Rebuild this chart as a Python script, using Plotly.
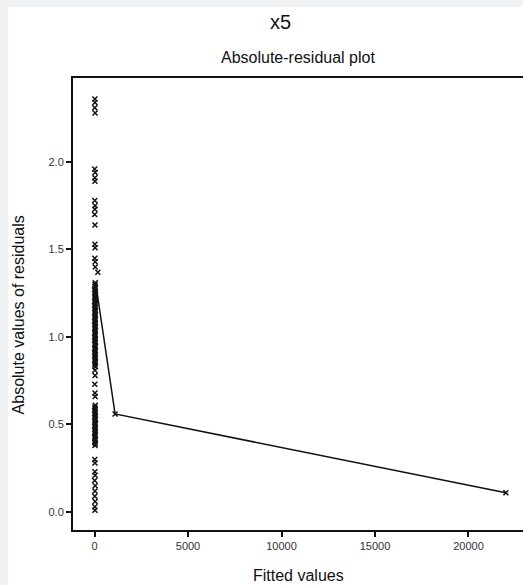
import plotly.graph_objects as go

# Absolute residuals of the observations (column near fitted value 0, plus two large fits)
abs_resid = [
    2.36, 2.34, 2.31, 2.28,
    1.96, 1.94, 1.91, 1.89,
    1.78, 1.75, 1.73, 1.70,
    1.64,
    1.53, 1.51,
    1.45, 1.43, 1.40, 1.37,
    1.31, 1.30, 1.29, 1.28, 1.27, 1.26, 1.25, 1.24, 1.23, 1.22,
    1.21, 1.20, 1.19, 1.18, 1.17, 1.16, 1.15, 1.14, 1.13, 1.12,
    1.11, 1.10, 1.09, 1.08, 1.07, 1.06, 1.05, 1.04, 1.03, 1.02,
    1.01, 1.00, 0.99, 0.98, 0.97, 0.96, 0.95, 0.94, 0.93, 0.92,
    0.91, 0.90, 0.89, 0.88, 0.87, 0.86, 0.85, 0.84, 0.83,
    0.81, 0.78, 0.73, 0.68, 0.66,
    0.61, 0.60, 0.59, 0.58, 0.57, 0.56, 0.55, 0.54, 0.53, 0.52,
    0.51, 0.50, 0.49, 0.48, 0.47, 0.46, 0.45, 0.44, 0.43, 0.42,
    0.41, 0.40, 0.39, 0.38,
    0.30, 0.28, 0.23, 0.21, 0.18, 0.15, 0.12, 0.09, 0.06, 0.03, 0.01,
    0.56, 0.11,
]
fitted = [
    20, 25, 15, 30,
    10, 35, 20, 25,
    15, 30, 20, 10,
    25,
    20, 30,
    15, 35, 40, 180,
    40, 30, 20, 45, 10, 35, 25, 50, 15, 40,
    30, 20, 45, 10, 35, 25, 50, 15, 40, 30,
    20, 45, 10, 35, 25, 50, 15, 40, 30, 20,
    45, 10, 35, 25, 50, 15, 40, 30, 20, 45,
    10, 35, 25, 50, 15, 40, 30, 20, 45,
    20, 30, 15, 25, 35,
    40, 20, 30, 10, 45, 25, 35, 15, 50, 20,
    30, 40, 10, 45, 25, 35, 15, 50, 20, 30,
    40, 10, 45, 25,
    15, 25, 20, 30, 10, 35, 25, 15, 30, 20, 25,
    1100, 22000,
]

# Trend line of absolute residuals vs fitted values
trend_fitted = [60, 1100, 22000]
trend_abs_resid = [1.31, 0.56, 0.11]

x_ticks = [0, 5000, 10000, 15000, 20000]
y_ticks = [0.0, 0.5, 1.0, 1.5, 2.0]

FONT = "Liberation Sans, Arial, sans-serif"

fig = go.Figure()
fig.add_trace(go.Scatter(
    x=trend_fitted, y=trend_abs_resid, mode="lines",
    line=dict(color="#111111", width=1.5), hoverinfo="skip", showlegend=False,
))
fig.add_trace(go.Scatter(
    x=fitted, y=abs_resid, mode="markers",
    marker=dict(symbol="x-thin", size=5, color="#111111",
                line=dict(color="#111111", width=1.5)),
    showlegend=False,
))

# plot area: left 73, right 523, top 78, bottom 530 (452 px tall, 450 px wide)
fig.update_layout(
    width=523, height=585,
    margin=dict(l=73, r=0, t=78, b=55),
    paper_bgcolor="#f0f1f3",
    plot_bgcolor="white",
    font=dict(family=FONT, color="#111111"),
    shapes=[dict(type="rect", xref="paper", yref="paper",
                 x0=-0.144, x1=1.2, y0=-0.3, y1=1.157,
                 fillcolor="white", line=dict(width=0), layer="below")],
    annotations=[
        dict(text="x5", xref="paper", yref="paper", x=0.462, y=1.125,
             showarrow=False, font=dict(size=20, family=FONT), xanchor="center", yanchor="middle"),
        dict(text="Absolute-residual plot", xref="paper", yref="paper", x=0.5, y=1.046,
             showarrow=False, font=dict(size=16, family=FONT), xanchor="center", yanchor="middle"),
        dict(text="Fitted values", xref="paper", yref="paper", x=0.5, y=-0.0996,
             showarrow=False, font=dict(size=16, family=FONT), xanchor="center", yanchor="middle"),
        dict(text="Absolute values of residuals", xref="paper", yref="paper", x=-0.122, y=0.475,
             textangle=-90, showarrow=False, font=dict(size=16, family=FONT),
             xanchor="center", yanchor="middle"),
    ],
)
fig.update_xaxes(
    range=[-1150, 22915], tickvals=x_ticks, ticktext=[str(v) for v in x_ticks],
    showgrid=False, zeroline=False, showline=True, linecolor="#111111", linewidth=2,
    mirror=True, ticks="outside", ticklen=5, tickwidth=2, tickcolor="#111111",
    tickfont=dict(size=11, color="#333333", family=FONT),
)
fig.update_yaxes(
    range=[-0.103, 2.48], tickvals=y_ticks, ticktext=[f"{v:.1f}" for v in y_ticks],
    showgrid=False, zeroline=False, showline=True, linecolor="#111111", linewidth=2,
    ticks="outside", ticklen=5, tickwidth=2, tickcolor="#111111",
    tickfont=dict(size=11, color="#333333", family=FONT),
)

fig.write_html(
    "out.html",
    config={"displayModeBar": False},
    post_script="document.body.style.margin='0';"
                "document.body.style.background='#f0f1f3';"
                "document.body.style.overflow='hidden';"
                "document.documentElement.style.overflow='hidden';",
)
